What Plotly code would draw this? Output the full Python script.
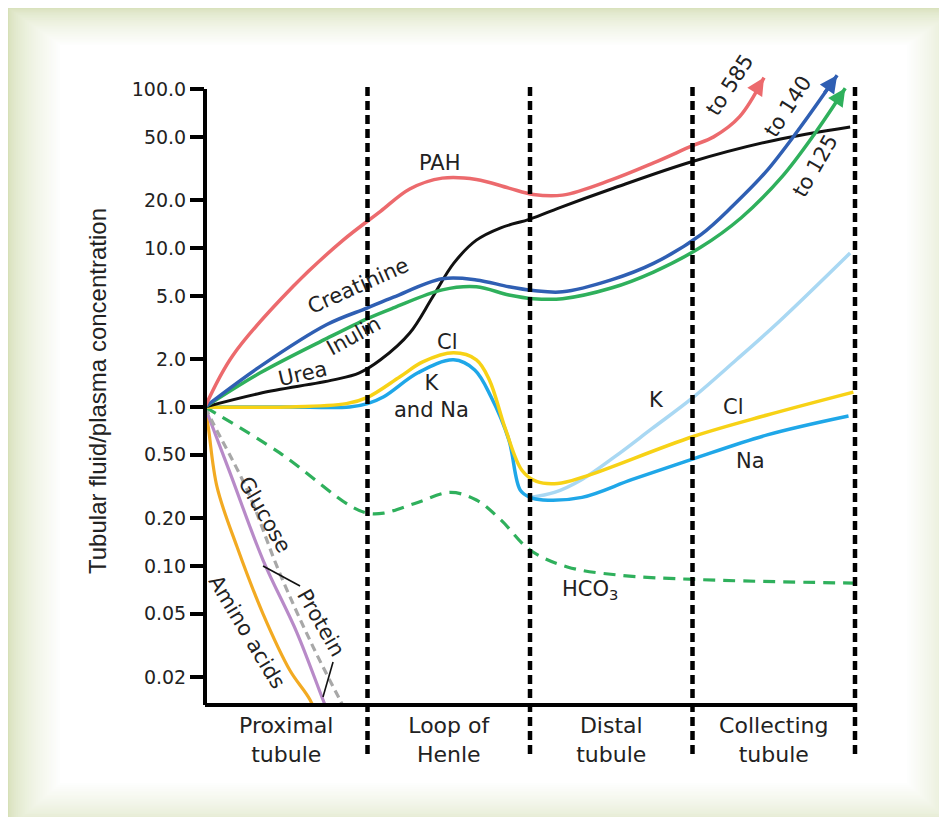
import numpy as np
import plotly.graph_objects as go

# ---------------- data ----------------
segments = ["Proximal<br>tubule", "Loop of<br>Henle", "Distal<br>tubule", "Collecting<br>tubule"]
seg_centers = [0.5, 1.5, 2.5, 3.5]
boundaries = [1, 2, 3, 4]

ytick_vals = [0.02, 0.05, 0.1, 0.2, 0.5, 1, 2, 5, 10, 20, 50, 100]
ytick_text = ["0.02", "0.05", "0.10", "0.20", "0.50", "1.0", "2.0", "5.0", "10.0", "20.0", "50.0", "100.0"]

pah_x = [0, 0.17, 0.54, 0.85, 1.08, 1.26, 1.46, 1.67, 1.87, 2.02, 2.2, 2.5, 2.76, 3.0, 3.13, 3.29, 3.44]
pah_y = [1.0, 2.1, 5.7, 11.2, 17.0, 23.5, 27.5, 27.0, 23.8, 21.7, 21.5, 26.8, 34.3, 44, 50, 67, 118]

creat_x = [0, 0.34, 0.75, 1.0, 1.16, 1.46, 1.67, 1.87, 2.02, 2.2, 2.5, 2.76, 3.05, 3.25, 3.45, 3.65, 3.89]
creat_y = [1.0, 1.8, 3.3, 4.2, 4.9, 6.4, 6.3, 5.7, 5.4, 5.3, 6.3, 8.0, 12.1, 18.5, 30, 55, 122]

inulin_x = [0, 0.34, 0.75, 1.0, 1.16, 1.46, 1.67, 1.87, 2.02, 2.2, 2.5, 2.76, 3.05, 3.3, 3.55, 3.75, 3.94]
inulin_y = [1.0, 1.64, 2.7, 3.6, 4.2, 5.45, 5.7, 5.06, 4.8, 4.8, 5.6, 7.06, 10.1, 15.5, 28, 52, 101]

urea_x = [0, 0.34, 0.79, 0.95, 1.08, 1.26, 1.4, 1.53, 1.67, 1.82, 2.0, 2.18, 2.5, 3.0, 3.5, 3.97]
urea_y = [1.0, 1.22, 1.48, 1.64, 1.98, 2.92, 4.9, 8.0, 11.2, 13.4, 15.2, 17.9, 23.5, 35.0, 47.5, 57.7]

cl_x = [0, 0.5, 0.87, 1.0, 1.2, 1.34, 1.53, 1.67, 1.75, 1.85, 1.95, 2.04, 2.17, 2.33, 3.0, 3.46, 3.99]
cl_y = [1.0, 1.0, 1.05, 1.15, 1.55, 1.92, 2.19, 1.98, 1.48, 0.72, 0.40, 0.34, 0.33, 0.363, 0.65, 0.89, 1.24]

na_x = [0, 0.5, 0.89, 1.0, 1.1, 1.31, 1.53, 1.66, 1.76, 1.87, 1.94, 2.0, 2.08, 2.32, 2.63, 3.0, 3.46, 3.96]
na_y = [1.0, 1.0, 1.0, 1.05, 1.16, 1.64, 1.98, 1.71, 1.16, 0.62, 0.30, 0.27, 0.26, 0.27, 0.35, 0.47, 0.667, 0.877]

k_x = [2.0, 2.15, 2.32, 2.52, 2.75, 3.0, 3.27, 3.54, 3.97]
k_y = [0.27, 0.29, 0.35, 0.485, 0.73, 1.14, 1.98, 3.5, 9.3]

hco3_x = [0, 0.46, 0.89, 1.0, 1.1, 1.3, 1.51, 1.67, 1.82, 2.0, 2.23, 2.54, 3.05, 3.99]
hco3_y = [1.0, 0.514, 0.24, 0.215, 0.215, 0.249, 0.29, 0.26, 0.195, 0.126, 0.0986, 0.0877, 0.082, 0.078]

glucose_x = [0, 0.05, 0.26, 0.46, 0.665, 0.83, 0.9]
glucose_y = [1.0, 0.79, 0.30, 0.09, 0.031, 0.0144, 0.0105]

protein_x = [0, 0.154, 0.357, 0.566, 0.726, 0.78]
protein_y = [1.0, 0.385, 0.109, 0.038, 0.0144, 0.0105]

amino_x = [0, 0.02, 0.074, 0.197, 0.357, 0.523, 0.646, 0.72]
amino_y = [1.0, 0.75, 0.314, 0.132, 0.05, 0.022, 0.0144, 0.0095]

# ---------------- layout geometry ----------------
# page body has an 8px margin: the figure sits at (8, 8) in the window
OFF = 8
L, R, T, B = 205 - OFF, 92, 65 - OFF, 114
PW, PH = 650, 638
W, H = L + PW + R, T + PH + B
YMIN, YMAX = -1.862, 2.151
FONT = "DejaVu Sans"
TXT = "#222222"


def ypaper(v):
    return (np.log10(v) - YMIN) / (YMAX - YMIN)


def px2paper(sx, sy):
    # screen pixel -> paper coordinates
    return (sx - 205) / PW, (703 - sy) / PH


fig = go.Figure()


def add_line(x, y, color, width=3.5, dash=None):
    fig.add_trace(go.Scatter(
        x=x, y=y, mode="lines",
        line=dict(color=color, width=width, shape="spline", smoothing=1.0, dash=dash),
        hoverinfo="skip", showlegend=False))


RED = "#ec6a6d"
BLUE = "#2f5fb3"
GREEN = "#2fb05c"
YELLOW = "#f7d216"
SKY = "#1fa7e8"
LSKY = "#a9d8f3"
PURPLE = "#b88ac8"
ORANGE = "#f2aa22"
GRAY = "#a8a8a8"

add_line(amino_x, amino_y, ORANGE, 3.2)
add_line(protein_x, protein_y, PURPLE, 3.2)
add_line(glucose_x, glucose_y, GRAY, 3.2, dash="8px,5px")
add_line(hco3_x, hco3_y, GREEN, 3.2, dash="12px,8px")
add_line(k_x, k_y, LSKY, 3.5)
add_line(na_x, na_y, SKY, 3.5)
add_line(cl_x, cl_y, YELLOW, 3.5)
add_line(urea_x, urea_y, "#111111", 3.0)
add_line(inulin_x, inulin_y, GREEN, 3.5)
add_line(creat_x, creat_y, BLUE, 3.5)
add_line(pah_x, pah_y, RED, 3.5)

annotations = []

# solid arrow heads at the ends of PAH, creatinine and inulin
for xs, ys, col in [(pah_x, pah_y, RED), (creat_x, creat_y, BLUE), (inulin_x, inulin_y, GREEN)]:
    tx, ty = xs[-1], np.log10(ys[-1])
    bx, by = xs[-2], np.log10(ys[-2])
    annotations.append(dict(
        x=tx, y=ty, ax=tx - 0.35 * (tx - bx), ay=ty - 0.35 * (ty - by),
        xref="x", yref="y", axref="x", ayref="y", text="", showarrow=True,
        arrowhead=2, arrowsize=1.0, arrowwidth=3.5, arrowcolor=col, standoff=0))

labels = [
    ("PAH", 1.446, 34.3, 0, 21),
    ("Creatinine", 0.94, 5.8, -24, 21),
    ("Inulin", 0.915, 2.78, -29, 21),
    ("Urea", 0.597, 1.62, -13, 21),
    ("Cl", 1.495, 2.57, 0, 21),
    ("K<br>and Na", 1.391, 1.156, 0, 21),
    ("K", 2.78, 1.107, 0, 21),
    ("Cl", 3.25, 1.0, 0, 21),
    ("Na", 3.354, 0.457, 0, 21),
    ("HCO<sub>3</sub>", 2.37, 0.0706, 0, 21),
    ("Glucose", 0.369, 0.21, 60, 21),
    ("Protein", 0.714, 0.0438, 60, 21),
    ("Amino acids", 0.258, 0.0385, 59, 21),
    ("to 585", 3.23, 106, -57, 21),
    ("to 140", 3.59, 78, -57, 21),
    ("to 125", 3.754, 33, -60, 21),
]
for text, x, v, ang, size in labels:
    annotations.append(dict(
        x=x, y=np.log10(v), xref="x", yref="y", text=text, showarrow=False,
        textangle=ang, font=dict(family=FONT, size=size, color=TXT),
        xanchor="center", yanchor="middle"))

# y-axis title
tx, ty = px2paper(97, 391)
annotations.append(dict(
    x=tx, y=ty, xref="paper", yref="paper", text="Tubular fluid/plasma concentration",
    showarrow=False, textangle=-90,
    font=dict(family="Liberation Sans, Arial, sans-serif", size=24, color=TXT),
    xanchor="center", yanchor="middle"))

shapes = []

# background frame with soft gradient (screen pixel boxes)
outer = np.array([7, 7, 960, 830], dtype=float)
inner = np.array([60, 45, 907, 783], dtype=float)
c_edge = np.array([214, 224, 184], dtype=float)
c_in = np.array([255, 255, 255], dtype=float)
N = 24
for i in range(N + 1):
    t = i / N
    box = outer + (inner - outer) * t
    c = c_edge + (c_in - c_edge) * (t ** 0.6)
    x0, y0 = px2paper(box[0], box[3])
    x1, y1 = px2paper(box[2], box[1])
    shapes.append(dict(type="rect", xref="paper", yref="paper", x0=x0, y0=y0, x1=x1, y1=y1,
                       fillcolor="rgb(%d,%d,%d)" % tuple(c.astype(int)), line=dict(width=0),
                       layer="below"))

# y-axis line (up to 100)
shapes.append(dict(type="line", xref="paper", yref="paper", x0=0, x1=0, y0=-0.003, y1=ypaper(100),
                   line=dict(color="black", width=4)))

# dashed segment boundaries (extend below axis through labels)
top_p = ypaper(103)
bot_p = px2paper(0, 754)[1]
for b in boundaries:
    shapes.append(dict(type="line", xref="paper", yref="paper", x0=b / 4, x1=b / 4,
                       y0=bot_p, y1=top_p,
                       line=dict(color="black", width=4.5, dash="9px,5px")))

# leader lines for "Protein"
for (xa, va), (xb, vb) in [((0.357, 0.1), (0.585, 0.0748)), ((0.788, 0.0249), (0.726, 0.015))]:
    shapes.append(dict(type="line", xref="x", yref="paper", x0=xa, x1=xb,
                       y0=ypaper(va), y1=ypaper(vb), line=dict(color="#111111", width=1.6)))

fig.update_layout(
    width=W, height=H,
    margin=dict(l=L, r=R, t=T, b=B, pad=0),
    paper_bgcolor="white", plot_bgcolor="rgba(0,0,0,0)",
    showlegend=False,
    xaxis=dict(range=[0, 4], tickvals=seg_centers, ticktext=segments, ticks="",
               showgrid=False, zeroline=False, showline=True, linecolor="black", linewidth=4,
               tickfont=dict(family=FONT, size=22, color=TXT), fixedrange=True),
    yaxis=dict(type="log", range=[YMIN, YMAX], tickvals=ytick_vals, ticktext=ytick_text,
               ticks="outside", ticklen=14, tickwidth=4, tickcolor="black",
               showgrid=False, zeroline=False, showline=False,
               tickfont=dict(family=FONT, size=19, color=TXT), fixedrange=True),
    annotations=annotations,
    shapes=shapes,
)

fig.write_html("out.html")
